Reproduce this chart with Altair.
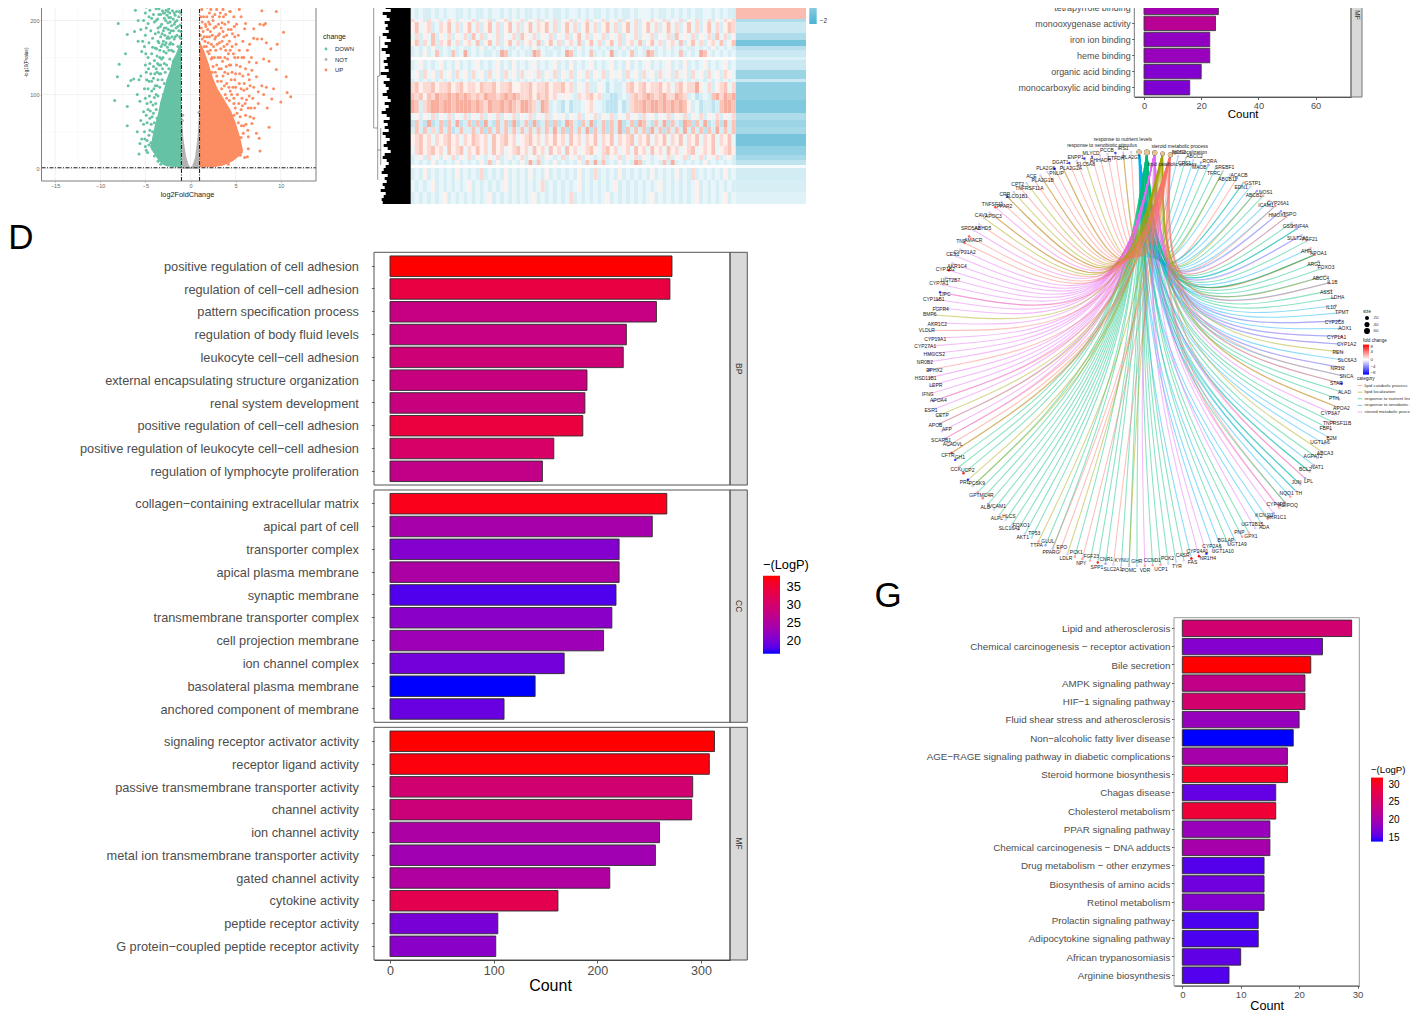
import math
import altair as alt
import pandas as pd

OX, OY = 8, 8
W, H = 1402, 1008

# ---------------- Panel D ----------------
BP_TERMS = ["positive regulation of cell adhesion", "regulation of cell−cell adhesion", "pattern specification process",
            "regulation of body fluid levels", "leukocyte cell−cell adhesion", "external encapsulating structure organization",
            "renal system development", "positive regulation of cell−cell adhesion",
            "positive regulation of leukocyte cell−cell adhesion", "regulation of lymphocyte proliferation"]
BP_COUNT = [272, 270, 257, 228, 225, 190, 188, 186, 158, 147]
BP_LOGP = [38, 33.7, 27.9, 27.9, 28.9, 28.0, 28.3, 34.1, 30.4, 27.2]
CC_TERMS = ["collagen−containing extracellular matrix", "apical part of cell", "transporter complex", "apical plasma membrane",
            "synaptic membrane", "transmembrane transporter complex", "cell projection membrane", "ion channel complex",
            "basolateral plasma membrane", "anchored component of membrane"]
CC_COUNT = [267, 253, 221, 221, 218, 214, 206, 168, 140, 110]
CC_LOGP = [36.9, 24.0, 20.7, 24.6, 17.9, 21.2, 22.9, 19.6, 16.4, 19.0]
MF_TERMS = ["signaling receptor activator activity", "receptor ligand activity", "passive transmembrane transporter activity",
            "channel activity", "ion channel activity", "metal ion transmembrane transporter activity", "gated channel activity",
            "cytokine activity", "peptide receptor activity", "G protein−coupled peptide receptor activity"]
MF_COUNT = [313, 308, 292, 291, 260, 256, 212, 162, 104, 102]
MF_LOGP = [38, 37.5, 29.4, 28.7, 24.6, 23.3, 25.0, 32.6, 19.9, 21.2]

# ---------------- Panel G ----------------
G_TERMS = ["Lipid and atherosclerosis", "Chemical carcinogenesis − receptor activation", "Bile secretion", "AMPK signaling pathway",
           "HIF−1 signaling pathway", "Fluid shear stress and atherosclerosis", "Non−alcoholic fatty liver disease",
           "AGE−RAGE signaling pathway in diabetic complications", "Steroid hormone biosynthesis", "Chagas disease",
           "Cholesterol metabolism", "PPAR signaling pathway", "Chemical carcinogenesis − DNA adducts",
           "Drug metabolism − other enzymes", "Biosynthesis of amino acids", "Retinol metabolism", "Prolactin signaling pathway",
           "Adipocytokine signaling pathway", "African trypanosomiasis", "Arginine biosynthesis"]
G_COUNT = [29, 24, 22, 21, 21, 20, 19, 18, 18, 16, 16, 15, 15, 14, 14, 14, 13, 13, 10, 8]
G_LOGP = [24.8, 17.5, 32, 23, 25.1, 18.8, 13.9, 20.2, 30.5, 15.9, 29.3, 19, 20.2, 15.3, 16.4, 17.5, 15, 15, 15.7, 15.2]

# ---------------- Top right bars ----------------
TR_TERMS = ["tetrapyrrole binding", "monooxygenase activity", "iron ion binding", "heme binding", "organic acid binding",
            "monocarboxylic acid binding"]
TR_COUNT = [26, 25, 23, 23, 20, 16]
TR_SHADE = [0.33, 0.45, 0.25, 0.28, 0.20, 0.18]

# ---------------- Volcano ----------------
V_CHANGE = ["DOWN", "NOT", "UP"]
V_COLORS = ["#66C2A5", "#B3B3B3", "#FC8D62"]
DOWN_BODY_X = [-1.02, -1.3, -1.6, -2.0, -2.3, -2.6, -3.0, -3.3, -3.6, -4.0, -4.4]
DOWN_BODY_LOW = [2, 2, 2, 2, 3, 3, 5, 8, 12, 20, 27]
DOWN_BODY_HIGH = [172, 165, 155, 146, 132, 122, 104, 92, 74, 56, 32]
UP_BODY_X = [1.02, 1.5, 2.0, 2.5, 3.0, 3.5, 4.0, 4.5, 5.0, 5.5, 5.8]
UP_BODY_LOW = [2, 2, 2, 2, 3, 4, 6, 9, 13, 18, 22]
UP_BODY_HIGH = [172, 160, 142, 122, 108, 98, 88, 78, 62, 42, 26]
NOT_X = [-1.0, -0.8, -0.5, -0.2, 0.0, 0.2, 0.5, 0.8, 1.0]
NOT_HIGH = [88, 42, 17, 5, 2, 4, 15, 44, 90]
NOT_LOW = [0, 0, 0, 0, 0, 0, 0, 0, 0]
DOWN_POINTS = [(-8.0, 196), (-7.0, 219), (-6.1, 214), (-7.0, 181), (-6.2, 185), (-7.2, 155), (-7.9, 141), (-8.1, 124), (-8.4, 92),
    (-7.0, 84), (-7.0, 58), (-6.6, 119), (-6.3, 121), (-6.9, 112), (-5.7, 120), (-5.5, 125), (-5.9, 100), (-5.6, 91), (-5.2, 77),
    (-5.0, 95), (-5.1, 108), (-4.9, 130), (-5.0, 140), (-5.4, 158), (-5.8, 172), (-5.1, 165), (-5.0, 180), (-5.5, 188), (-5.8, 200),
    (-5.2, 200), (-5.0, 210), (-4.9, 218), (-5.5, 65), (-5.9, 50), (-5.1, 50), (-5.6, 34), (-5.4, 40), (-5.7, 20), (-4.9, 25),
    (-4.8, 38), (-5.2, 60), (-4.8, 62), (-4.6, 45), (-4.7, 80), (-4.5, 68), (-4.4, 90), (-4.3, 105), (-4.6, 118), (-4.4, 128),
    (-4.7, 150), (-4.5, 142), (-4.3, 155), (-4.6, 170), (-4.2, 176), (-4.4, 186), (-4.7, 196), (-4.3, 203), (-4.5, 214), (-4.1, 222),
    (-4.0, 96), (-3.9, 112), (-4.1, 122), (-3.8, 135), (-4.0, 146), (-3.7, 152), (-3.9, 163), (-3.6, 172), (-3.9, 182), (-3.6, 190),
    (-3.8, 200), (-3.5, 208), (-3.8, 216), (-3.4, 224), (-3.6, 98), (-3.4, 110), (-3.6, 120), (-3.3, 128), (-3.5, 140), (-3.2, 148),
    (-3.4, 160), (-3.1, 168), (-3.3, 178), (-3.0, 186), (-3.2, 195), (-2.9, 203), (-3.1, 213), (-2.8, 222), (-3.2, 88), (-3.0, 100),
    (-2.9, 115), (-2.8, 130), (-2.9, 142), (-2.7, 156), (-2.8, 167), (-2.6, 176), (-2.7, 190), (-2.5, 197), (-2.6, 207), (-2.4, 216),
    (-2.6, 224), (-2.5, 120), (-2.4, 135), (-2.3, 148), (-2.4, 160), (-2.2, 170), (-2.3, 183), (-2.1, 193), (-2.2, 204), (-2.0, 213),
    (-2.2, 222), (-2.0, 130), (-1.9, 145), (-1.9, 158), (-1.8, 175), (-1.9, 186), (-1.7, 198), (-1.8, 210), (-1.6, 220), (-1.5, 150),
    (-1.4, 165), (-1.5, 180), (-1.3, 205), (-1.2, 160), (-1.1, 142), (-4.2, 50), (-4.4, 35), (-4.0, 62), (-3.8, 80), (-4.1, 75),
    (-3.7, 68), (-4.3, 30), (-4.0, 17), (-3.6, 10), (-3.9, 40), (-3.3, 6), (-3.7, 24)]
DOWN_POINTS_MORE = [(-1.2, 178), (-1.3, 186), (-1.15, 194), (-1.4, 192), (-1.25, 212), (-1.5, 200), (-1.35, 222), (-1.6, 190), (-1.7, 178),
    (-1.55, 212), (-1.8, 195), (-1.7, 207), (-1.9, 202), (-1.95, 168), (-2.05, 178), (-2.1, 160), (-2.15, 186), (-2.3, 168), (-2.25, 198),
    (-2.35, 176), (-2.45, 188), (-2.4, 204), (-2.55, 164), (-2.5, 178), (-2.65, 140), (-2.7, 170), (-2.75, 200), (-2.85, 180), (-2.9, 190),
    (-2.95, 158), (-3.0, 172), (-3.05, 150), (-3.1, 135), (-3.15, 120), (-3.15, 182), (-3.25, 165), (-3.3, 140), (-3.35, 192), (-3.4, 150),
    (-3.45, 128), (-3.5, 170), (-3.55, 184), (-3.65, 142), (-3.7, 130), (-3.7, 112), (-3.75, 162), (-3.8, 100), (-3.85, 88), (-3.95, 128),
    (-4.05, 108), (-4.1, 138), (-4.15, 86), (-4.2, 164), (-4.25, 70), (-4.3, 118), (-4.35, 60), (-4.45, 78), (-4.5, 52), (-4.55, 98),
    (-4.6, 32), (-4.65, 135), (-4.7, 108), (-4.75, 22), (-4.8, 88), (-4.85, 120), (-4.9, 72), (-4.95, 155), (-5.0, 30), (-5.05, 40),
    (-3.0, 210), (-2.7, 214), (-2.3, 210), (-3.5, 216), (-3.3, 208), (-4.0, 198), (-4.1, 208), (-4.6, 205), (-4.9, 190), (-5.3, 172),
    (-2.0, 224), (-1.75, 222), (-2.5, 212), (-2.85, 210), (-3.65, 202), (-3.25, 220), (-1.1, 176), (-1.08, 210), (-1.12, 224), (-1.05, 185)]
UP_POINTS = [(9.5, 219), (9.5, 212), (10.3, 184), (9.6, 168), (9.5, 134), (10.6, 124), (10.7, 103), (11.1, 97), (10.0, 90), (9.0, 94),
    (8.5, 82), (8.7, 56), (7.7, 24), (7.6, 41), (7.3, 48), (6.4, 43), (6.4, 27), (6.3, 16), (6.0, 15), (5.5, 18), (8.1, 194), (7.9, 213),
    (6.8, 220), (8.3, 196), (7.7, 195), (7.0, 189), (6.0, 189), (6.1, 196), (7.0, 176), (7.4, 175), (7.9, 175), (8.4, 170), (8.9, 162),
    (8.7, 145), (8.1, 148), (7.3, 143), (6.5, 144), (6.8, 133), (7.3, 124), (6.4, 127), (6.5, 120), (7.0, 110), (7.9, 112), (8.4, 110),
    (9.2, 108), (7.5, 104), (8.1, 100), (7.5, 88), (7.1, 82), (7.0, 68), (6.8, 61), (6.6, 70), (6.2, 93), (5.9, 106), (6.4, 82), (6.1, 72),
    (5.9, 58), (5.6, 42), (5.2, 30), (5.3, 62), (5.6, 80), (5.7, 95), (5.4, 115), (5.8, 125), (5.5, 138), (5.9, 150), (5.4, 160), (5.8, 172),
    (5.3, 180), (5.6, 205), (5.1, 195), (5.4, 215), (5.0, 224), (4.9, 150), (5.0, 128), (5.0, 110), (4.8, 95), (4.6, 165), (4.9, 178),
    (4.5, 188), (4.8, 205), (4.4, 212), (4.7, 222), (4.3, 140), (4.5, 120), (4.4, 105), (4.2, 155), (4.3, 172), (4.0, 180), (4.2, 198),
    (3.9, 208), (4.1, 220), (3.8, 130), (4.0, 115), (3.8, 150), (3.7, 165), (3.6, 185), (3.5, 197), (3.6, 215), (3.3, 224), (3.4, 118),
    (3.4, 135), (3.3, 150), (3.2, 170), (3.1, 180), (3.2, 205), (2.9, 215), (2.9, 125), (2.9, 140), (2.8, 160), (2.7, 175), (2.8, 192),
    (2.5, 200), (2.6, 222), (2.4, 130), (2.4, 150), (2.3, 168), (2.2, 185), (2.1, 210), (2.0, 198), (1.9, 140), (1.9, 158), (1.8, 178),
    (1.7, 192), (1.5, 165), (1.4, 150), (1.3, 175), (1.2, 160), (4.8, 72), (5.0, 55), (5.2, 48), (4.9, 24), (5.4, 22), (4.6, 12), (4.2, 6)]
UP_POINTS_MORE = [(1.1, 180), (1.2, 190), (1.15, 205), (1.3, 198), (1.25, 215), (1.4, 185), (1.5, 178), (1.45, 205), (1.55, 222), (1.6, 172),
    (1.65, 195), (1.75, 165), (1.8, 205), (1.85, 218), (1.9, 188), (1.95, 170), (2.05, 155), (2.1, 178), (2.15, 195), (2.2, 160), (2.25, 215),
    (2.3, 148), (2.4, 180), (2.45, 205), (2.5, 138), (2.55, 165), (2.6, 190), (2.65, 150), (2.7, 208), (2.75, 130), (2.8, 178), (2.85, 222),
    (2.95, 168), (3.0, 118), (3.05, 150), (3.1, 195), (3.15, 135), (3.2, 182), (3.3, 210), (3.35, 162), (3.4, 190), (3.45, 108), (3.5, 172),
    (3.55, 145), (3.6, 125), (3.65, 205), (3.7, 178), (3.75, 112), (3.8, 195), (3.85, 100), (3.9, 160), (3.95, 138), (4.0, 95), (4.05, 168),
    (4.1, 148), (4.15, 128), (4.2, 188), (4.25, 110), (4.3, 92), (4.35, 212), (4.4, 160), (4.45, 140), (4.55, 100), (4.6, 130), (4.65, 182),
    (4.7, 110), (4.75, 155), (4.8, 88), (4.85, 192), (4.9, 120), (4.95, 82), (5.05, 168), (5.1, 140), (5.15, 75), (5.2, 100), (5.25, 150),
    (5.35, 88), (5.45, 128), (5.5, 70), (5.6, 108), (5.65, 58), (5.7, 150), (5.75, 85), (5.85, 48), (5.95, 115), (6.05, 88), (6.1, 135),
    (6.15, 60), (6.25, 108), (6.3, 160), (6.35, 52), (6.5, 98), (6.55, 168), (6.6, 112), (6.7, 82), (6.75, 150), (6.9, 95)]
V_X_MAJOR = [-15, -10, -5, 0, 5, 10]
V_X_MINOR = [-12.5, -7.5, -2.5, 2.5, 7.5, 12.5]
V_Y_MAJOR = [0, 100, 200]
V_Y_MINOR = [50, 150]

# ---------------- Heatmap (coarse reading; digits 0-9 map to the colour scale, w = near white) ----------------
HM_COLS = 80
HM_EDGES = [0, 8, 19, 22, 33, 40, 46, 50, 57, 60, 70, 79, 82, 93, 100, 113, 120, 127, 134, 146, 155, 160, 165, 168, 180, 192, 204]
HM_MAIN = [
    "34343433433443343434434334343343443434334344334343433434433434343343443343434334",
    "43433434344334343343443434343343434334344343433434343343444343343434343344343433",
    "64536453465354463546345635463546354635463546354635463546354654635463546346354656",
    "57456346574635746357463574635746574635746357463574635746357463574635746357463576",
    "46354735463546374635463546375463546354635746354635463546354635463745463546374635",
    "57364736574635647357463574635647357463564735746357463564735746356473574635647357",
    "34343533434343343534343433434353434334343534343433435343433434353434334343534343",
    "34353473437348343433438734343387433434873434734348343473438734343473434874343434",
    "wwwwwwwwwwwwwwwwwwwwwwwwwwwwwwwwwwwwwwwwwwwwwwwwwwwwwwwwwwwwwwwwwwwwwwwwwwwwwwww",
    "34534345343534345343453435343453434534353434534345343534345343453435343453434534",
    "45364536453645364536453645364546354635463546354635453645364536453645364536453654",
    "34343434343434343434343434343434343434343434343434343434343434343434343434343434",
    "67566756675675665766756675566756675667563546335424334675675667564675668546356746",
    "76757687787878767687767878766757675645543656756332234367678767866876342343786878",
    "87367887887888878768778787688763873432423345644322242367787887878787534233237887",
    "45354635463546354635463546354635463545354635463546354645364535463546354635463546",
    "27328237273823727283273728237282372723873273823727382372873273827328727382372837",
    "37373637372373373727373737373737373837273738273727382737372837273738373727383737",
    "56756465675646576564756756456756465756475646574657465674657465746574657465746574",
    "46756756475674657564756456756475647564756456754675645647564756475645674565745675",
    "34536453546354635435463453463546354346354635434635463546354345463546354635463453",
    "34343534343534343537353434353837343534343537383734353438734343738343434353434343",
    "wwwwwwwwwwwwwwwwwwwwwwwwwwwwwwwwwwwwwwwwwwwwwwwwwwwwwwwwwwwwwwwwwwwwwwwwwwwwwwww",
    "34353434343534343634343534343534353434343534363434353434343534343534363434343534",
    "43434534343434534343434534343434634343434534343434534343434345343434345343434343",
    "34343434534343434345343434343453434343463434343453434343434534343434345343434534",
]
HM_BLOCK = [1.0, 0.9, -0.9, -0.6, -0.9, -1.5, -0.8, -0.6, -0.4, -0.6, -1.1, -0.6, -1.25, -1.25, -1.4, -0.9, -1.1, -1.0, -1.5, -1.2,
            -1.0, -0.7, -0.1, -0.5, -0.45, -0.35]
HM_DIGIT = {"0": -1.1, "1": -0.9, "2": -0.7, "3": -0.45, "4": -0.25, "5": 0.2, "6": 0.5, "7": 0.8, "8": 1.1, "9": 1.4, "w": 0.03}
DENDRO_DEPTH = [27, 22, 25, 20, 28, 24, 21, 26, 23, 25, 22, 28, 24, 20, 26, 23, 29, 25, 21, 24, 27, 23, 26, 22, 30, 24, 21, 27, 25, 22,
                24, 28, 23, 20, 26, 22, 25, 29, 24, 21, 27, 23, 26, 22, 28, 25, 21, 24, 27, 23, 20, 26, 28, 24, 22, 25, 27, 29, 23, 26,
                24, 28, 26, 30, 25, 27, 29, 28]
DENDRO_V = [(37, 0, 128), (33, 76, 180), (31, 36, 76), (30, 128, 165)]
DENDRO_H = [(37, 33, 128), (33, 31, 76), (33, 30, 150)]

# ---------------- Network ----------------
HUB_LABELS = ["response to xenobiotic stimulus", "response to nutrient levels", "steroid metabolic process", "lipid localization",
              "lipid catabolic process"]
HUB_CODE = ["x", "n", "s", "l", "c"]
HUB_LABEL_DX = [-37, -24, 25, 27, 2]
HUB_LABEL_DY = [7, 13, 7, 2, -9]
GENE_NAMES = """NOS2 CPS1 ABCC2 MAOB RORA TFRC SREBF1 ABCB11 ACACB EDN1 GSTP1 ABCB1 NOS1 ICAM1 CYP26A1 HMOX1 TSPO GSS HNF4A SULT2A1 FGF21 AHR APOA1 ARG1 FOXO3 ABCC4 IL1B ASS1 LDHA IL10 TPMT CYP2C8 AOX1 CYP1A1 CYP1A2 REN SLC6A3 NR1I2 SNCA STAR ALAD PTH APOA2 CYP3A7 TNFRSF11B FBP1 B2M UGT1A6 ABCA3 AGPAT2 NAT1 BCL2 LPL JUN TH NQO1 ADIPOQ CYP4F2 AKR1C1 KCNJ11 ADA UGT2B15 GPX1 PNP UGT1A9 BGLAP UGT1A10 CYP2A6 NR1H4 CYP24A1 FAS CASR TYR PCK2 UCP1 CCND1 VDR GHR POMC KYNU SLC2A1 CNR1 SPP1 FGF23 NPY PCK1 LDLR EPO PPARG GLUL TTPA TP53 AKT1 FOXO1 SLC16A1 HLCS ALPL VCAM1 ALB MC4R GPT PCSK9 PRL UCP2 CCK GH1 CFTR ACADVL SCARB1 AFP APOB CETP ESR1 APOA4 IFNG LEPR HSD11B1 EPHX2 NR0B2 HMGCS2 CYP27A1 CYP19A1 VLDLR AKR1C2 BMP6 FGFR4 CYP11B1 LIPC CYP7A1 UGT2B7 CYP1B2 AKR1C4 CES1 CYP21A2 TNF AMACR SRD5A2 ABHD5 CAV1 APOC3 TNFSF11 FFAR2 CRP SLCO1B1 CPT2 TNFRSF11A ACE PLA2G1B PLA2G6 PNLIP DGAT1 PLA2G2A ENPP1 SLC5A8 MLYCD EHHADH PCCB ETFDH IRS1 PLA2G7""".split()
GENE_TERMS = """x n x x n n nl x c xn x xl n x xc xs ls n xn xs n x xcln n n xl xc n n x x xs x xs xs l x xs xc ls n n cl s n n x x l n x xn cs xn nx x cn cs s x x s n n x n x x s s x n n n n n s n nl n c n n n c n l c nc n l n n n n n n n n n n nl l n n n cl c cs s ls l s cs s s s c s s s s c s l s s cs s s s s s s c c s c l cl s c cl l c l c cl c c cl c c l c c c c cl c""".split()
GENE_FOLD = {"PNLIP": -8, "CRP": -6, "LIPC": -6, "CYP11B1": -4, "GH1": -6, "PRL": -7, "NR1H4": -7, "STAR": -8, "CYP2C8": -5, "EPHX2": -5,
             "ETFDH": -6, "SLC5A8": -6, "PLA2G2A": -6, "MLYCD": -5, "MAOB": -3, "RORA": -3, "HSD11B1": -3,
             "TNFSF11": 6, "TNF": 5, "AMACR": 5, "CYP1B2": 8, "CFTR": 7, "UCP2": 7, "SPP1": 7, "FAS": 8, "CYP24A1": 8, "CYP1A1": 5,
             "APOA1": 4, "IL1B": 4, "MC4R": 4, "NOS1": 3, "CYP26A1": 4, "TNFRSF11B": 5, "PTH": 3, "IL10": 3, "ASS1": 3, "LDHA": 3,
             "ACACB": -3, "ABCB1": -3, "HMOX1": -3, "HNF4A": -2.5, "ARG1": -2.5, "REN": 2, "TSPO": 2, "EDN1": 2, "ICAM1": 2, "AHR": 2, "FGF21": 2,
             "ABCC4": 2, "IFNG": 2, "GPT": 3, "CCK": 2, "NPY": 3, "FGF23": 2.5, "PNP": 3, "GPX1": 2.5, "ADA": 2, "CNR1": -3, "POMC": -2, "LPL": -3,
             "NAT1": 3, "BCL2": 2, "B2M": 3, "FBP1": 2, "KCNJ11": 3, "NQO1": 3, "ADIPOQ": 3, "CYP4F2": 2, "AKR1C1": -3, "VDR": 3, "CCND1": 3, "UCP1": 3,
             "PPARG": -2, "EPO": 2, "PCK1": 3, "GLUL": -3, "TTPA": 3, "ALB": -3, "FOXO1": -2.5, "APOA4": -3, "CETP": 2, "APOB": -2.5, "SCARB1": -2.5}
GENE_FOLD_DEFAULT = -1.4
TERM_NAME = dict(zip(HUB_CODE, HUB_LABELS))
assert len(GENE_NAMES) == len(GENE_TERMS), (len(GENE_NAMES), len(GENE_TERMS))

# ---------------- scale helpers ----------------
def sx(dom, left, right):
    return alt.Scale(domain=dom, range=[left - OX, right - OX], nice=False, zero=False)

def sy(dom, bottom, top):
    return alt.Scale(domain=dom, range=[bottom - OY, top - OY], nice=False, zero=False)

UNIT = pd.DataFrame({"a": [0], "b": [1]})

def box(x0, x1, y0, y1, **mk):
    return alt.Chart(UNIT).mark_rect(**mk).encode(
        x=alt.X("a:Q", scale=sx([0, 1], x0, x1), axis=None), x2="b:Q",
        y=alt.Y("a:Q", scale=sy([0, 1], y1, y0), axis=None), y2="b:Q")

def label(txt, x, y, **mk):
    return alt.Chart(pd.DataFrame({"a": [0.5], "t": [txt]})).mark_text(**mk).encode(
        x=alt.X("a:Q", scale=sx([0, 1], x - 5, x + 5), axis=None),
        y=alt.Y("a:Q", scale=sy([0, 1], y + 5, y - 5), axis=None), text="t:N")

layers = []

# ---------------- Bar panels ----------------
GREY_TXT = "#4D4D4D"
def bars(terms, counts, shades, xdom, xl, xr, yt, yb, step_font, color_scale, xaxis=None, legend=None, stroke="#2B2B2B", pad=1.5):
    df = pd.DataFrame({"term": terms, "count": counts, "v": shades})
    return alt.Chart(df).mark_bar(stroke=stroke, strokeWidth=0.9).encode(
        x=alt.X("count:Q", stack=None, scale=sx(xdom, xl, xr), axis=xaxis),
        y=alt.Y("term:N", sort=terms,
                scale=alt.Scale(domain=terms, range=[yt - OY, yb - OY], paddingInner=0.1, paddingOuter=0.05),
                axis=alt.Axis(orient="left", offset=-(xl - OX), title=None, domain=False, grid=False, tickSize=2.6, tickWidth=0.8,
                              tickColor="#333333", labelColor=GREY_TXT, labelFontSize=step_font, labelLimit=600, labelPadding=pad,
                              labelOverlap=False, labelOffset=0.7)),
        color=alt.Color("v:Q", scale=color_scale, legend=legend))

# D
DL, DR, DS = 374, 730, 747.3
DXDOM = [(DL - 390) / 1.0367, (DR - 390) / 1.0367]
D_COLOR = alt.Scale(domain=[16.4, 38], range=["#0000FF", "#FF0000"], interpolate="lab")
d_xaxis = alt.Axis(orient="bottom", offset=-(H - (960 - OY)), values=[0, 100, 200, 300], title="Count", titleFontSize=16, titleFontWeight="normal",
                   titleColor="#000000", titlePadding=0.5, titleX=542, domainColor="#333333", domainWidth=1, tickColor="#333333", tickSize=3, tickWidth=0.8,
                   labelColor=GREY_TXT, labelFontSize=12.5, labelPadding=1.5, grid=False)
d_leg = alt.Legend(orient="none", legendX=763 - OX, legendY=559 - OY, title="−(LogP)", titleFontSize=12.8, titleFontWeight="normal", titleColor="#000000",
                   titlePadding=4, gradientLength=78, gradientThickness=17, values=[20, 25, 30, 35], labelFontSize=13, labelColor="#000000", labelOffset=6.5,
                   direction="vertical", gradientStrokeWidth=0)
for terms, counts, logp, yt, yb, top, bot, name, xa, lg in [
    (BP_TERMS, BP_COUNT, BP_LOGP, 254.8, 482.7, 252.3, 485, "BP", None, None),
    (CC_TERMS, CC_COUNT, CC_LOGP, 492.3, 720.4, 490, 722.3, "CC", None, d_leg),
    (MF_TERMS, MF_COUNT, MF_LOGP, 729.9, 957.7, 727.3, 960, "MF", d_xaxis, None)]:
    layers.append(bars(terms, counts, logp, DXDOM, DL, DR, yt, yb, 12.75, D_COLOR, xaxis=xa, legend=lg, pad=13))
    layers.append(box(DR, DS, top, bot, fill="#D9D9D9", stroke="#555555", strokeWidth=1))
    layers.append(box(DL, DR, top, bot, fill=None, filled=False, stroke="#555555", strokeWidth=1))
    layers.append(label(name, (DR + DS) / 2, (top + bot) / 2, angle=90, fontSize=8.5, color="#333333"))

# G
GL, GR = 1174, 1359.3
G_COLOR = alt.Scale(domain=[13.9, 32], range=["#0000FF", "#FF0000"], interpolate="lab")
g_xaxis = alt.Axis(orient="bottom", offset=-(H - (985.7 - OY)), values=[0, 10, 20, 30], title="Count", titleFontSize=12.7, titleFontWeight="normal",
                   titleColor="#000000", titlePadding=0, domainColor="#333333", domainWidth=1, tickColor="#333333", tickSize=2.5, tickWidth=0.8,
                   labelColor=GREY_TXT, labelFontSize=9.6, labelPadding=1.5, grid=False)
g_leg = alt.Legend(orient="none", legendX=1371 - OX, legendY=765 - OY, title="−(LogP)", titleFontSize=9.6, titleFontWeight="normal", titleColor="#000000",
                   titlePadding=3, gradientLength=64, gradientThickness=12, values=[15, 20, 25, 30], labelFontSize=10, labelColor="#000000", labelOffset=5.5,
                   direction="vertical", gradientStrokeWidth=0)
layers.append(bars(G_TERMS, G_COUNT, G_LOGP, [(GL - 1182.3) / 5.84, (GR - 1182.3) / 5.84], GL, GR, 619.2, 984.3, 9.8, G_COLOR, xaxis=g_xaxis, legend=g_leg))
layers.append(box(GL, GR, 617.7, 985.7, fill=None, filled=False, stroke="#999999", strokeWidth=1))

# Top right
TL, TR, TS = 1134.3, 1351, 1362
TR_COLOR = alt.Scale(domain=[0, 1], range=["#0000FF", "#FF0000"], interpolate="lab")
t_xaxis = alt.Axis(orient="bottom", offset=-(H - (97 - OY)), values=[0, 20, 40, 60], title="Count", titleFontSize=11.5, titleFontWeight="normal",
                   titleColor="#000000", titlePadding=-2, domainColor="#333333", domainWidth=1, tickColor="#333333", tickSize=2.5, tickWidth=0.8,
                   labelColor=GREY_TXT, labelFontSize=9.2, labelPadding=1.5, grid=False)
layers.append(bars(TR_TERMS, TR_COUNT, TR_SHADE, [(TL - 1144) / 2.86, (TR - 1144) / 2.86], TL, TR, -0.7, 95.7, 8.95, TR_COLOR, xaxis=t_xaxis, stroke="#3A3A3A"))
layers.append(box(TR, TS, -20, 97, fill="#D9D9D9", stroke="#777777", strokeWidth=1))
layers.append(box(TL, TR, -20, 97, fill=None, filled=False, stroke="#777777", strokeWidth=1))
layers.append(label("MF", (TR + TS) / 2, 15, angle=90, fontSize=6.5, color="#333333"))

# ---------------- Volcano ----------------
VL_, VR_, VB_, VT_ = 41.5, 316, 181, 0
VXDOM = [(VL_ - 190.5) / 9.03, (VR_ - 190.5) / 9.03]
VYDOM = [(168.7 - VB_) / 0.741, (168.7 - VT_) / 0.741]
vx = sx(VXDOM, VL_, VR_)
vy = sy(VYDOM, VB_, VT_)
def vrules_x(vals, color, width, dash=None):
    df = pd.DataFrame({"x": vals, "y0": VYDOM[0], "y1": VYDOM[1]})
    mk = dict(color=color, strokeWidth=width)
    if dash: mk["strokeDash"] = dash
    return alt.Chart(df).mark_rule(**mk).encode(x=alt.X("x:Q", scale=vx, axis=None), y=alt.Y("y0:Q", scale=vy, axis=None), y2="y1:Q")
def vrules_y(vals, color, width, dash=None):
    df = pd.DataFrame({"y": vals, "x0": VXDOM[0], "x1": VXDOM[1]})
    mk = dict(color=color, strokeWidth=width)
    if dash: mk["strokeDash"] = dash
    return alt.Chart(df).mark_rule(**mk).encode(y=alt.Y("y:Q", scale=vy, axis=None), x=alt.X("x0:Q", scale=vx, axis=None), x2="x1:Q")
layers += [vrules_x(V_X_MINOR, "#F2F2F2", 0.4), vrules_y(V_Y_MINOR, "#F2F2F2", 0.4), vrules_x(V_X_MAJOR, "#EBEBEB", 0.7), vrules_y(V_Y_MAJOR, "#EBEBEB", 0.7)]
def varea(xs, lo, hi, color):
    df = pd.DataFrame({"x": xs, "lo": lo, "hi": hi})
    return alt.Chart(df).mark_area(color=color, orient="vertical").encode(
        x=alt.X("x:Q", scale=vx, axis=None), y=alt.Y("lo:Q", scale=vy, axis=None), y2="hi:Q")
layers += [varea(NOT_X, NOT_LOW, NOT_HIGH, "#B3B3B3"), varea(DOWN_BODY_X, DOWN_BODY_LOW, DOWN_BODY_HIGH, "#66C2A5"),
           varea(UP_BODY_X, UP_BODY_LOW, UP_BODY_HIGH, "#FC8D62")]
vdf = pd.DataFrame(
    [dict(x=p[0], y=p[1], change="DOWN") for p in DOWN_POINTS + DOWN_POINTS_MORE] +
    [dict(x=p[0], y=p[1], change="UP") for p in UP_POINTS + UP_POINTS_MORE] +
    [dict(x=-0.9, y=65, change="NOT"), dict(x=-0.85, y=72, change="NOT"), dict(x=0.92, y=76, change="NOT")])
layers.append(alt.Chart(vdf).mark_circle(size=9, opacity=1).encode(
    x=alt.X("x:Q", scale=vx, axis=alt.Axis(orient="bottom", offset=-(H - (VB_ - OY)), values=V_X_MAJOR, title="log2FoldChange", titleFontSize=7.3, titleFontWeight="normal",
            titleColor="#222222", titlePadding=1, titleX=187 - OX, domain=False, tickColor="#888888", tickSize=1.5, tickWidth=0.5, labelColor="#666666", labelFontSize=5.5, labelPadding=1, grid=False)),
    y=alt.Y("y:Q", scale=vy, axis=alt.Axis(orient="left", offset=-(VL_ - OX), values=V_Y_MAJOR, title="-log10(Pvalue)", titleFontSize=4.6, titleFontWeight="normal",
            titleColor="#222222", titlePadding=1, titleY=62 - OY, domain=False, tickColor="#888888", tickSize=1.5, tickWidth=0.5, labelColor="#666666", labelFontSize=5.5, labelPadding=1, grid=False)),
    color=alt.Color("change:N", scale=alt.Scale(domain=V_CHANGE, range=V_COLORS),
                    legend=alt.Legend(orient="none", legendX=323 - OX, legendY=33 - OY, title="change", titleFontSize=7, titleFontWeight="normal", titleColor="#222222",
                                      labelFontSize=6, labelColor="#222222", symbolSize=8, symbolType="circle", rowPadding=4.5, titlePadding=6, labelOffset=6))))
layers += [vrules_x([-1, 1], "#222222", 1.1, [4, 1.5, 1, 1.5]), vrules_y([1.3], "#222222", 1.1, [4, 1.5, 1, 1.5])]
layers.append(box(VL_, VR_, -20, VB_, fill=None, filled=False, stroke="#7F7F7F", strokeWidth=1))

# ---------------- Heatmap ----------------
HL, HM, HR = 410.7, 735.7, 806
HEAT = alt.Scale(domain=[-2, 0, 2], range=["#4AB2D0", "#FFFFFF", "#F26B4E"], interpolate="rgb")
hm_rows = []
for r, line in enumerate(HM_MAIN):
    for c, ch in enumerate(line.ljust(HM_COLS, "4")[:HM_COLS]):
        hm_rows.append(dict(c0=c, c1=c + 1, r0=HM_EDGES[r], r1=HM_EDGES[r + 1], v=HM_DIGIT[ch]))
hy = alt.Scale(domain=[0, 204], range=[0 - OY, 204 - OY], nice=False, zero=False)
layers.append(alt.Chart(pd.DataFrame(hm_rows)).mark_rect().encode(
    x=alt.X("c0:Q", scale=sx([0, HM_COLS], HL, HM), axis=None), x2="c1:Q",
    y=alt.Y("r0:Q", scale=hy, axis=None), y2="r1:Q",
    color=alt.Color("v:Q", scale=HEAT, legend=None)))
blk = pd.DataFrame({"c0": 0, "c1": 1, "r0": HM_EDGES[:-1], "r1": HM_EDGES[1:], "v": HM_BLOCK})
layers.append(alt.Chart(blk).mark_rect().encode(
    x=alt.X("c0:Q", scale=sx([0, 1], HM, HR), axis=None), x2="c1:Q",
    y=alt.Y("r0:Q", scale=hy, axis=None), y2="r1:Q",
    color=alt.Color("v:Q", scale=HEAT, legend=alt.Legend(orient="none", legendX=809.3 - OX, legendY=-72 - OY, title=None, gradientLength=96, gradientThickness=7.4,
                    values=[-2, -1, 0, 1, 2], labelFontSize=6.5, labelColor="#333333", labelOffset=3, direction="vertical", gradientStrokeWidth=0))))
dd = pd.DataFrame({"d0": 0, "d": DENDRO_DEPTH, "r0": [i * 3 for i in range(len(DENDRO_DEPTH))], "r1": [(i + 1) * 3 for i in range(len(DENDRO_DEPTH))]})
dx = alt.Scale(domain=[0, 37], range=[HL - OX, HL - 37 - OX], nice=False, zero=False)
layers.append(alt.Chart(dd).mark_rect(color="#000000").encode(
    x=alt.X("d0:Q", scale=dx, axis=None), x2="d:Q", y=alt.Y("r0:Q", scale=hy, axis=None), y2="r1:Q"))
dv = pd.DataFrame(DENDRO_V, columns=["d", "y0", "y1"])
layers.append(alt.Chart(dv).mark_rule(color="#555555", strokeWidth=0.6).encode(
    x=alt.X("d:Q", scale=dx, axis=None), y=alt.Y("y0:Q", scale=hy, axis=None), y2="y1:Q"))
dh = pd.DataFrame(DENDRO_H, columns=["d0", "d1", "y"])
layers.append(alt.Chart(dh).mark_rule(color="#555555", strokeWidth=0.6).encode(
    x=alt.X("d0:Q", scale=dx, axis=None), x2="d1:Q", y=alt.Y("y:Q", scale=hy, axis=None)))

# ---------------- Network ----------------
CX, CY, RAD = 1136, 359, 207
nx = sx([-1, 1], CX - RAD, CX + RAD)
ny = sy([-1, 1], CY + RAD, CY - RAD)
N = len(HUB_CODE) + len(GENE_NAMES)
THETA0 = 0.0145
def pos(i):
    t = THETA0 + i * 2 * math.pi / N
    return math.sin(t), math.cos(t)
hub_pos = {c: pos(i) for i, c in enumerate(HUB_CODE)}
edges, genes_rows, lab_rows = [], [], []
eid = 0
for g, (name, codes) in enumerate(zip(GENE_NAMES, GENE_TERMS)):
    px, py = pos(g + len(HUB_CODE))
    for code in codes:
        hx, hy_ = hub_pos[code]
        for step, (ex, ey) in enumerate([(px, py), (0.0, 0.0), (hx, hy_)]):
            edges.append(dict(x=ex, y=ey, e=eid, step=step, cat=TERM_NAME[code]))
        eid += 1
    genes_rows.append(dict(x=px, y=py, name=name, fold=GENE_FOLD.get(name, GENE_FOLD_DEFAULT)))
    out = 1.02 if g % 2 == 0 else 0.975
    lab_rows.append(dict(x=px * out, y=py * out, name=name))
CAT_COLORS = ["#F8766D", "#A3A500", "#00BF7D", "#00B0F6", "#E76BF3"]
CAT_ORDER = ["lipid catabolic process", "lipid localization", "response to nutrient levels", "response to xenobiotic stimulus", "steroid metabolic process"]
layers.append(alt.Chart(pd.DataFrame(edges)).mark_line(interpolate="bundle", tension=0.75, strokeWidth=1.1, opacity=0.45).encode(
    x=alt.X("x:Q", scale=nx, axis=None), y=alt.Y("y:Q", scale=ny, axis=None), detail="e:N", order="step:Q",
    color=alt.Color("cat:N", scale=alt.Scale(domain=CAT_ORDER, range=CAT_COLORS),
                    legend=alt.Legend(orient="none", legendX=1357 - OX, legendY=376 - OY, title="category", titleFontSize=4.6, titleFontWeight="normal", titleColor="#222222",
                                      titlePadding=2, labelFontSize=4.4, labelColor="#333333", symbolType="stroke", symbolSize=22, symbolStrokeWidth=0.8, rowPadding=1.6, labelOffset=1.5,
                                      labelLimit=200, symbolOpacity=0.7))))
layers.append(alt.Chart(pd.DataFrame(genes_rows)).mark_circle(size=6, opacity=1).encode(
    x=alt.X("x:Q", scale=nx, axis=None), y=alt.Y("y:Q", scale=ny, axis=None),
    color=alt.Color("fold:Q", scale=alt.Scale(domain=[-8, 0, 8], range=["#0000FF", "#FFFFFF", "#FF0000"], interpolate="rgb"),
                    legend=alt.Legend(orient="none", legendX=1363 - OX, legendY=338 - OY, title="fold change", titleFontSize=4.6, titleFontWeight="normal", titleColor="#222222",
                                      titlePadding=2, gradientLength=30, gradientThickness=6, values=[-8, -4, 0, 4, 8], labelFontSize=4.4, labelColor="#333333", labelOffset=1.5,
                                      direction="vertical", gradientStrokeWidth=0))))
hub_rows = []
for i, c in enumerate(HUB_CODE):
    hx, hy_ = hub_pos[c]
    hub_rows.append(dict(x=hx, y=hy_, size=sum(c in t for t in GENE_TERMS), name=HUB_LABELS[i],
                         lx=hx + HUB_LABEL_DX[i] / RAD, ly=hy_ + HUB_LABEL_DY[i] / RAD))
hub_df = pd.DataFrame(hub_rows)
SIZE_SCALE = alt.Scale(domain=[20, 60], range=[16, 36], clamp=True)
layers.append(alt.Chart(hub_df).mark_circle(opacity=1, color="#000000").encode(
    x=alt.X("x:Q", scale=nx, axis=None), y=alt.Y("y:Q", scale=ny, axis=None),
    size=alt.Size("size:Q", scale=SIZE_SCALE,
                  legend=alt.Legend(orient="none", legendX=1363 - OX, legendY=309 - OY, title="size", titleFontSize=4.6, titleFontWeight="normal", titleColor="#222222",
                                    titlePadding=1.5, values=[20, 40, 60], labelFontSize=4.4, labelColor="#333333", labelOffset=2.5, rowPadding=0.5, clipHeight=6))))
layers.append(alt.Chart(hub_df).mark_circle(opacity=1, color="#E5C494").encode(
    x=alt.X("x:Q", scale=nx, axis=None), y=alt.Y("y:Q", scale=ny, axis=None),
    size=alt.Size("size:Q", scale=SIZE_SCALE, legend=None)))
layers.append(alt.Chart(pd.DataFrame(lab_rows)).mark_text(fontSize=5, color="#222222").encode(
    x=alt.X("x:Q", scale=nx, axis=None), y=alt.Y("y:Q", scale=ny, axis=None), text="name:N"))
layers.append(alt.Chart(hub_df).mark_text(fontSize=5, color="#222222").encode(
    x=alt.X("lx:Q", scale=nx, axis=None), y=alt.Y("ly:Q", scale=ny, axis=None), text="name:N"))

# ---------------- Panel letters ----------------
layers.append(label("D", 21, 238, fontSize=35, color="#000000"))
layers.append(label("G", 888, 596, fontSize=35, color="#000000"))
layers.append(box(8, 21, 1021.5, 1022.8, fill="#000000"))

chart = alt.layer(*layers).resolve_scale(x="independent", y="independent", color="independent", size="independent").properties(
    width=W, height=H, padding=0, autosize=alt.AutoSizeParams(type="none", contains="content")
).configure(font="Liberation Sans").configure_view(stroke=None)

chart.save("out.html", embed_options={"renderer": "svg", "actions": False})
